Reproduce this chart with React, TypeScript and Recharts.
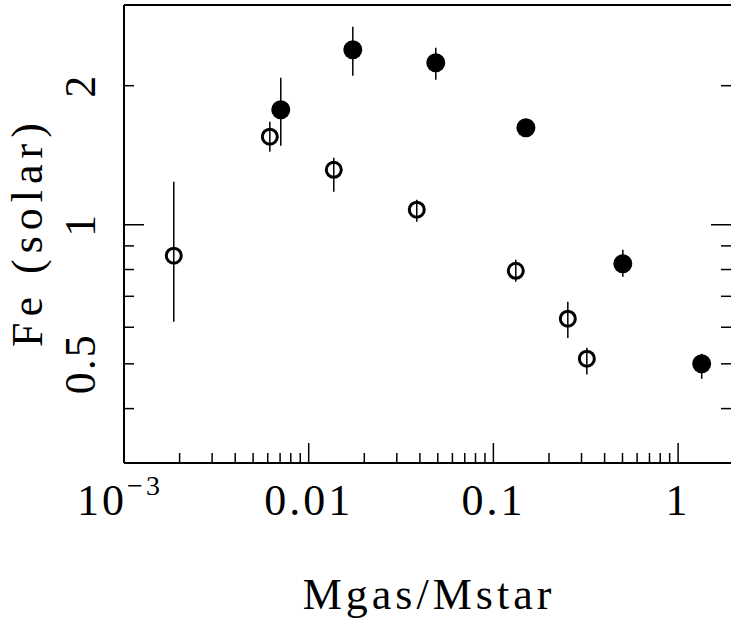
import React from 'react';
import { ScatterChart, Scatter, XAxis, YAxis, ErrorBar } from 'recharts';

// Open circles
const openX = [0.00186, 0.00616, 0.01367, 0.03847, 0.1322, 0.2529, 0.3206];
const openY = [0.857, 1.551, 1.315, 1.078, 0.795, 0.626, 0.513];
const openLo = [0.617, 1.439, 1.179, 1.015, 0.753, 0.569, 0.474];
const openHi = [1.239, 1.671, 1.397, 1.133, 0.84, 0.681, 0.542];

// Filled circles
const filledX = [0.00706, 0.01733, 0.04876, 0.15, 0.502, 1.342];
const filledY = [1.774, 2.392, 2.242, 1.622, 0.823, 0.5];
const filledLo = [1.483, 2.101, 2.06, 1.55, 0.772, 0.464];
const filledHi = [2.081, 2.683, 2.416, 1.68, 0.883, 0.526];

const xTicks = [
  0.001, 0.002, 0.003, 0.004, 0.005, 0.006, 0.007, 0.008, 0.009,
  0.01, 0.02, 0.03, 0.04, 0.05, 0.06, 0.07, 0.08, 0.09,
  0.1, 0.2, 0.3, 0.4, 0.5, 0.6, 0.7, 0.8, 0.9,
  1,
];
const xMajor = [0.001, 0.01, 0.1, 1];
const xLabels: Record<string, string> = { '0.01': '0.01', '0.1': '0.1', '1': '1' };

const yTicks = [0.4, 0.5, 0.6, 0.7, 0.8, 0.9, 1, 2];
const yMajor = [1];
const yLabels: Record<string, string> = { '0.5': '0.5', '1': '1', '2': '2' };

const openData = openX.map((x, i) => ({ x, y: openY[i], err: [openY[i] - openLo[i], openHi[i] - openY[i]] }));
const filledData = filledX.map((x, i) => ({ x, y: filledY[i], err: [filledY[i] - filledLo[i], filledHi[i] - filledY[i]] }));

const FONT = '"Liberation Serif", "DejaVu Serif", serif';
const TICK_FS = 44;
const X_DOMAIN = [0.001, 1.934];
const Y_DOMAIN = [0.305, 2.99];

const BottomTick = (props: any) => {
  const { x, y, payload } = props;
  const v = payload.value;
  const major = xMajor.includes(v);
  let label: React.ReactNode = null;
  if (v === 0.001) {
    label = (
      <text x={x - 4} y={y + 52} textAnchor="middle" fontFamily={FONT} fontSize={TICK_FS} fill="#000" letterSpacing={3}>
        10
        <tspan dy={-20} fontSize={28}>−3</tspan>
      </text>
    );
  } else if (xLabels[String(v)]) {
    label = (
      <text x={x} y={y + 52} textAnchor="middle" fontFamily={FONT} fontSize={TICK_FS} fill="#000" letterSpacing={3}>
        {xLabels[String(v)]}
      </text>
    );
  }
  return (
    <g>
      <line x1={x} y1={y} x2={x} y2={y - (major ? 20 : 10)} stroke="#000" strokeWidth={1.5} />
      {label}
    </g>
  );
};

const TopTick = (props: any) => {
  const { x, y, payload } = props;
  const major = xMajor.includes(payload.value);
  return <line x1={x} y1={y} x2={x} y2={y + (major ? 20 : 10)} stroke="#000" strokeWidth={1.5} />;
};

const LeftTick = (props: any) => {
  const { x, y, payload } = props;
  const v = payload.value;
  const major = yMajor.includes(v);
  const lab = yLabels[String(v)];
  const bx = 95;
  return (
    <g>
      <line x1={x} y1={y} x2={x + (major ? 20 : 10)} y2={y} stroke="#000" strokeWidth={1.5} />
      {lab ? (
        <text
          x={bx}
          y={y}
          transform={`rotate(-90, ${bx}, ${y})`}
          textAnchor="middle"
          fontFamily={FONT}
          fontSize={TICK_FS}
          fill="#000"
          letterSpacing={2}
        >
          {lab}
        </text>
      ) : null}
    </g>
  );
};

const RightTick = (props: any) => {
  const { x, y, payload } = props;
  const major = yMajor.includes(payload.value);
  return <line x1={x} y1={y} x2={x - (major ? 20 : 10)} y2={y} stroke="#000" strokeWidth={1.5} />;
};

const OpenShape = (props: any) => {
  const { cx, cy } = props;
  return <circle cx={cx} cy={cy} r={7.5} fill="none" stroke="#000" strokeWidth={3} />;
};

const FilledShape = (props: any) => {
  const { cx, cy } = props;
  return <circle cx={cx} cy={cy} r={9.5} fill="#000" stroke="none" />;
};

const XLabel = (props: any) => (
  <text x={429} y={609} textAnchor="middle" fontFamily={FONT} fontSize={44} fill="#000" letterSpacing={4}>
    Mgas/Mstar
  </text>
);

const YLabel = (props: any) => (
  <text
    x={42}
    y={232}
    transform="rotate(-90, 42, 232)"
    textAnchor="middle"
    fontFamily={FONT}
    fontSize={44}
    fill="#000"
    letterSpacing={6}
  >
    Fe (solar)
  </text>
);

export default function App() {
  return (
    <div style={{ position: 'absolute', left: 0, top: 0, background: '#fff' }}>
      <ScatterChart width={732} height={620} margin={{ top: 4, right: 0, bottom: 0, left: 0 }}>
        <XAxis
          xAxisId={0}
          dataKey="x"
          type="number"
          scale="log"
          domain={X_DOMAIN}
          allowDataOverflow
          ticks={xTicks}
          interval={0}
          tickSize={0}
          tickMargin={0}
          tickLine={false}
          tick={<BottomTick />}
          height={157}
          axisLine={{ stroke: '#000', strokeWidth: 2 }}
          label={{ content: <XLabel /> }}
        />
        <XAxis
          xAxisId="top"
          orientation="top"
          type="number"
          scale="log"
          domain={X_DOMAIN}
          allowDataOverflow
          ticks={xTicks}
          interval={0}
          tickSize={0}
          tickMargin={0}
          tickLine={false}
          tick={<TopTick />}
          height={1}
          axisLine={{ stroke: '#000', strokeWidth: 2 }}
        />
        <YAxis
          yAxisId={0}
          dataKey="y"
          type="number"
          scale="log"
          domain={Y_DOMAIN}
          allowDataOverflow
          ticks={yTicks}
          interval={0}
          tickSize={0}
          tickMargin={0}
          tickLine={false}
          tick={<LeftTick />}
          width={124}
          axisLine={{ stroke: '#000', strokeWidth: 2 }}
          label={{ content: <YLabel /> }}
        />
        <YAxis
          yAxisId="right"
          orientation="right"
          type="number"
          scale="log"
          domain={Y_DOMAIN}
          allowDataOverflow
          ticks={yTicks}
          interval={0}
          tickSize={0}
          tickMargin={0}
          tickLine={false}
          tick={<RightTick />}
          width={1}
          axisLine={false}
        />
        <Scatter data={openData} xAxisId={0} yAxisId={0} shape={<OpenShape />} isAnimationActive={false}>
          <ErrorBar dataKey="err" direction="y" width={0} stroke="#000" strokeWidth={1.5} isAnimationActive={false} />
        </Scatter>
        <Scatter data={filledData} xAxisId={0} yAxisId={0} shape={<FilledShape />} isAnimationActive={false}>
          <ErrorBar dataKey="err" direction="y" width={0} stroke="#000" strokeWidth={1.5} isAnimationActive={false} />
        </Scatter>
      </ScatterChart>
    </div>
  );
}
